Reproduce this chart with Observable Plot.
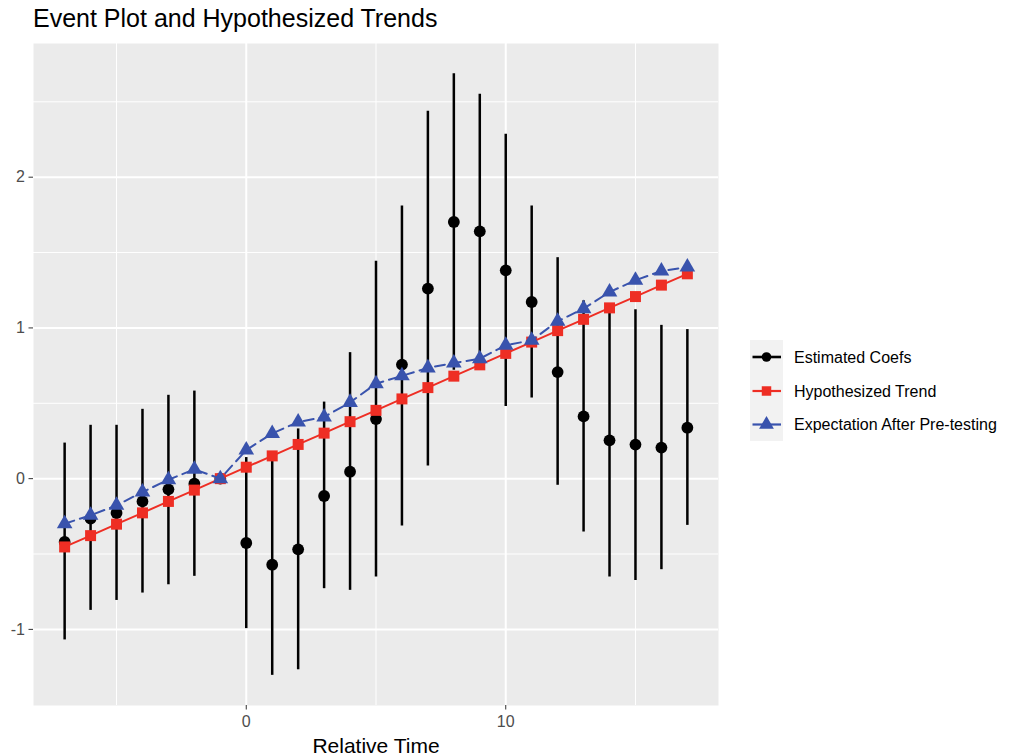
<!DOCTYPE html>
<html>
<head>
<meta charset="utf-8">
<script src="https://cdn.jsdelivr.net/npm/d3@7"></script>
<script src="https://cdn.jsdelivr.net/npm/@observablehq/plot@0.6"></script>
<style>
  body { margin: 0; background: #fff; font-family: "Liberation Sans", Arial, Helvetica, sans-serif; }
  #wrap { position: relative; width: 1015px; height: 755px; overflow: hidden; }
  #title { height: 43px; box-sizing: border-box; padding: 6px 0 0 33px; font-size: 25px; line-height: 25px; color: #000; white-space: nowrap; }
  #legend { position: absolute; left: 745px; top: 335px; }
</style>
</head>
<body>
<div id="wrap">
  <div id="title">Event Plot and Hypothesized Trends</div>
  <div id="chart"></div>
  <svg id="legend" width="270" height="112"></svg>
</div>
<script>
// ---- data ----
const time = [-7, -6, -5, -4, -3, -2, -1, 0, 1, 2, 3, 4, 5, 6, 7, 8, 9, 10, 11, 12, 13, 14, 15, 16, 17];
const coef = [-0.42, -0.265, -0.228, -0.151, -0.071, -0.033, 0, -0.427, -0.571, -0.469, -0.115, 0.046, 0.395, 0.757, 1.261, 1.703, 1.641, 1.382, 1.172, 0.707, 0.413, 0.254, 0.226, 0.206, 0.338];
const ciLow = [-1.07, -0.874, -0.808, -0.759, -0.704, -0.648, 0, -0.995, -1.305, -1.268, -0.73, -0.741, -0.653, -0.314, 0.084, 0.72, 0.732, 0.479, 0.535, -0.044, -0.354, -0.653, -0.675, -0.604, -0.31];
const ciHigh = [0.236, 0.354, 0.354, 0.46, 0.553, 0.581, 0, 0.14, 0.163, 0.33, 0.508, 0.836, 1.442, 1.809, 2.437, 2.687, 2.55, 2.285, 1.809, 1.466, 1.18, 1.16, 1.121, 1.017, 0.989];
const trend = [-0.453, -0.378, -0.302, -0.227, -0.151, -0.076, 0, 0.076, 0.151, 0.227, 0.302, 0.378, 0.453, 0.529, 0.604, 0.680, 0.755, 0.831, 0.906, 0.982, 1.057, 1.133, 1.208, 1.284, 1.359];
const pretest = [-0.299, -0.243, -0.177, -0.089, -0.007, 0.062, 0, 0.19, 0.30, 0.376, 0.409, 0.506, 0.63, 0.682, 0.735, 0.767, 0.796, 0.885, 0.918, 1.044, 1.128, 1.238, 1.316, 1.378, 1.404];

const xMajor = [0, 10];
const xMinor = [-5, 5, 15];
const yMajor = [-1, 0, 1, 2];
const yMinor = [-0.5, 0.5, 1.5, 2.5];

const seriesNames = ["Estimated Coefs", "Hypothesized Trend", "Expectation After Pre-testing"];
const xLabel = "Relative Time";

// ---- styles ----
const RED = "#ee2e24";
const BLUE = "#3953ad";
const FONT = '"Liberation Sans", Arial, Helvetica, sans-serif';

const rows = time.map((t, i) => ({t, coef: coef[i], lo: ciLow[i], hi: ciHigh[i], trend: trend[i], pretest: pretest[i]}));

const plot = Plot.plot({
  width: 1015,
  height: 712,
  marginLeft: 33,
  marginRight: 297,
  marginTop: 0,
  marginBottom: 50,
  x: {domain: [-8.2, 18.2]},
  y: {domain: [-1.505, 2.887]},
  style: {fontFamily: FONT, background: "transparent", overflow: "visible"},
  marks: [
    Plot.frame({fill: "#ebebeb", stroke: "none"}),
    Plot.ruleX(xMinor, {stroke: "white", strokeWidth: 1}),
    Plot.ruleY(yMinor, {stroke: "white", strokeWidth: 1}),
    Plot.ruleX(xMajor, {stroke: "white", strokeWidth: 2}),
    Plot.ruleY(yMajor, {stroke: "white", strokeWidth: 2}),
    Plot.axisY({ticks: yMajor, tickSize: 4.5, tickPadding: 4, fontSize: 16, stroke: "#333", fill: "#4d4d4d", label: null, tickFormat: d => String(d)}),
    Plot.axisX({ticks: xMajor, tickSize: 4.5, tickPadding: 6, fontSize: 16, stroke: "#333", fill: "#4d4d4d", label: null, tickFormat: d => String(d)}),
    Plot.text([xLabel], {frameAnchor: "bottom", lineAnchor: "bottom", dy: 47, fontSize: 21, fill: "#000"}),
    // confidence intervals
    Plot.ruleX(rows, {x: "t", y1: "lo", y2: "hi", stroke: "#000", strokeWidth: 2.5}),
    // estimated coefficients
    Plot.dot(rows, {x: "t", y: "coef", r: 5.9, fill: "#000", stroke: "none"}),
    // hypothesized trend
    Plot.line(rows, {x: "t", y: "trend", stroke: RED, strokeWidth: 2}),
    Plot.dot(rows, {x: "t", y: "trend", symbol: "square", r: 6.2, fill: RED, stroke: "none"}),
    // expectation after pre-testing
    Plot.line(rows, {x: "t", y: "pretest", stroke: BLUE, strokeWidth: 2, strokeDasharray: "10,6"}),
    Plot.dot(rows, {x: "t", y: "pretest", symbol: "triangle", r: 5.8, fill: BLUE, stroke: "none"})
  ]
});
document.getElementById("chart").appendChild(plot);

// ---- legend ----
const lg = d3.select("#legend");
lg.append("rect").attr("x", 5).attr("y", 5).attr("width", 33).attr("height", 101).attr("fill", "#f2f2f2");
const rowY = [22, 56, 89.5];
const keyColors = ["#000", RED, BLUE];
const keySymbols = [d3.symbolCircle, d3.symbolSquare, d3.symbolTriangle];
const keySizes = [Math.PI * 4.8 * 4.8, 90, 95];
seriesNames.forEach((name, i) => {
  const g = lg.append("g").attr("transform", `translate(0,${rowY[i]})`);
  g.append("line").attr("x1", 7.5).attr("x2", 36).attr("y1", 0).attr("y2", 0)
    .attr("stroke", keyColors[i]).attr("stroke-width", i === 0 ? 2.6 : 2.2);
  g.append("path").attr("transform", "translate(21.5,0)")
    .attr("d", d3.symbol(keySymbols[i], keySizes[i])()).attr("fill", keyColors[i]);
  g.append("text").attr("x", 49).attr("y", 5.8).attr("font-size", 16)
    .attr("font-family", FONT).attr("fill", "#000").text(name);
});
</script>
</body>
</html>
